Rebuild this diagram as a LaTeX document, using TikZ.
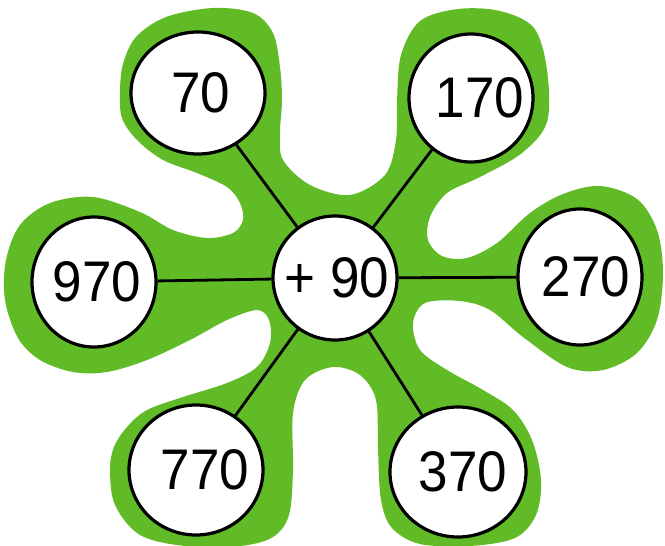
\documentclass[tikz,border=0pt]{standalone}
\usepackage{fontspec}
\setmainfont{Liberation Sans}
\usetikzlibrary{shapes.geometric}
\definecolor{blobgreen}{RGB}{97,187,38}
\newcommand\shiftedtext[2]{\makebox[0pt]{\hspace*{#1}\scalebox{1}[1.08]{#2}}}
\begin{document}
\begin{tikzpicture}[x=1pt,y=-1pt,
  bubble/.style={ellipse, draw=black, line width=3.2pt, fill=white, inner sep=0pt,
    font=\fontsize{53}{53}\selectfont},
  link/.style={draw=black, line width=2.8pt}]
\useasboundingbox (0,0) rectangle (665,546);
\fill[blobgreen] plot[smooth cycle, tension=0.55] coordinates {
(213,8) (253,13) (273,33) (280,67) (282,100) (280,133) (283,160) (310,185) (350,195)
(385,175) (396,140) (397,100) (401,55) (420,21) (458,9) (500,11) (534,28) (547,70)
(547,122) (522,153) (480,177) (447,193) (430,217) (428,240) (442,256) (467,258)
(497,243) (530,213) (563,194) (600,186) (637,199) (657,230) (663,273) (657,320)
(637,353) (603,370) (567,367) (523,337) (490,310) (460,301) (425,303) (413,323)
(420,350) (447,370) (483,390) (513,410) (532,440) (541,480) (536,515) (515,538)
(470,546) (420,544) (392,528) (381,500) (378,450) (376,400) (360,375) (333,367)
(305,380) (293,413) (293,470) (289,515) (273,537) (240,546) (185,546) (140,535)
(115,505) (110,470) (114,447) (127,427) (147,410) (183,397) (227,383) (257,367)
(270,343) (269,320) (257,310) (227,320) (190,340) (147,360) (107,372) (73,372)
(40,360) (18,338) (5,300) (6,260) (20,225) (50,203) (93,197) (140,212) (173,230)
(207,238) (233,233) (243,220) (240,203) (227,187) (197,173) (163,160) (137,140)
(122,118) (120,92) (123,64) (136,37) (166,17)};
\node[bubble, circle, minimum size=124pt] (c) at (335,278) {\shiftedtext{4pt}{+ 90}};
\node[bubble, minimum width=134pt, minimum height=122pt] (n70) at (198,93) {\shiftedtext{6pt}{70}};
\node[bubble, minimum width=124pt, minimum height=128pt] (n170) at (471,98) {\shiftedtext{18pt}{170}};
\node[bubble, minimum width=124pt, minimum height=136pt] (n270) at (580,277) {\shiftedtext{12pt}{270}};
\node[bubble, minimum width=136pt, minimum height=130pt] (n370) at (458,472) {\shiftedtext{10pt}{370}};
\node[bubble, minimum width=134pt, minimum height=130pt] (n770) at (196,470) {\shiftedtext{18pt}{770}};
\node[bubble, minimum width=124pt, minimum height=130pt] (n970) at (94,282) {\shiftedtext{6pt}{970}};
\draw[link] (c) -- (n70);
\draw[link] (c) -- (n170);
\draw[link] (c) -- (n270);
\draw[link] (c) -- (n370);
\draw[link] (c) -- (n770);
\draw[link] (c) -- (n970);
\end{tikzpicture}
\end{document}
